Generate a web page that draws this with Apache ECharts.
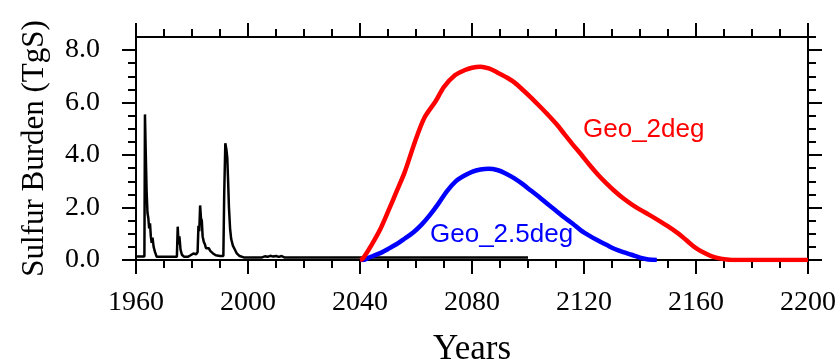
<!DOCTYPE html>
<html>
<head>
<meta charset="utf-8">
<script src="https://cdn.jsdelivr.net/npm/echarts@6/dist/echarts.min.js"></script>
<style>
  html, body { margin: 0; padding: 0; background: #fff; }
  #chart { width: 840px; height: 359px; }
</style>
</head>
<body>
<div id="chart"></div>
<script>
// historical run (black)
var histYears = [1960, 1963.0, 1963.2, 1963.5, 1963.8, 1964.1, 1964.4, 1964.7, 1965.0, 1965.3, 1965.6, 1965.9, 1966.3, 1966.8, 1967.4,
  1974.6, 1974.9, 1975.2, 1975.5, 1975.9, 1976.4, 1977.2, 1978.5, 1979.5, 1980.5, 1981.5, 1982.0,
  1982.3, 1982.6, 1982.9, 1983.2, 1983.5, 1983.8, 1984.2, 1984.6, 1985.0, 1985.5, 1986.0, 1986.5, 1987.5, 1988.5, 1990.0,
  1991.2, 1991.5, 1991.9, 1992.3, 1992.6, 1992.9, 1993.2, 1993.6, 1994.0, 1994.6, 1995.3, 1996.0, 1997.0, 1998.5,
  2005, 2006, 2007, 2008, 2009, 2010, 2011, 2012, 2013, 2100];
var histVals = [0.13, 0.13, 5.55, 4.0, 2.6, 1.8, 1.6, 1.2, 1.4, 0.9, 0.65, 0.85, 0.5, 0.3, 0.12,
  0.12, 1.27, 0.6, 0.9, 0.4, 0.2, 0.12, 0.12, 0.18, 0.25, 0.22, 0.3,
  1.3, 1.1, 2.08, 1.6, 1.5, 0.9, 0.7, 0.6, 0.45, 0.38, 0.45, 0.35, 0.25, 0.18, 0.15,
  0.15, 2.5, 4.45, 4.2, 3.9, 3.0, 2.0, 1.2, 0.8, 0.55, 0.4, 0.25, 0.15, 0.1,
  0.1, 0.14, 0.12, 0.16, 0.13, 0.15, 0.12, 0.15, 0.1, 0.1];

// Geo_2deg (red)
var geo2Years = [2040, 2041, 2044, 2047, 2050, 2053, 2056, 2059.6, 2063, 2067, 2070, 2074, 2077.5, 2080,
  2083, 2086, 2089, 2092, 2095, 2098, 2101, 2104, 2107, 2110, 2113, 2116, 2119, 2122, 2125, 2128, 2131, 2134, 2137,
  2140, 2143, 2146, 2149, 2152, 2155, 2158, 2160, 2162, 2165, 2168, 2171, 2174, 2200];
var geo2Vals = [0, 0.05, 0.55, 1.12, 1.84, 2.6, 3.36, 4.5, 5.42, 6.05, 6.6, 7.05, 7.24, 7.33,
  7.37, 7.3, 7.15, 6.98, 6.78, 6.5, 6.2, 5.88, 5.55, 5.2, 4.8, 4.4, 4.02, 3.62, 3.25, 2.92, 2.62, 2.35, 2.12,
  1.92, 1.74, 1.55, 1.35, 1.14, 0.9, 0.62, 0.45, 0.32, 0.17, 0.07, 0.02, 0, 0];

// Geo_2.5deg (blue)
var geo25Years = [2040, 2041, 2043, 2045, 2048, 2050, 2053, 2056, 2059, 2062, 2065, 2068, 2071, 2074, 2077, 2080, 2083,
  2086, 2089, 2092, 2095, 2098, 2101, 2104, 2107, 2110, 2113, 2116, 2119, 2122, 2125, 2128, 2131, 2134, 2137, 2140,
  2143, 2146];
var geo25Vals = [0, 0, 0.08, 0.17, 0.3, 0.42, 0.6, 0.82, 1.05, 1.35, 1.72, 2.15, 2.62, 2.98, 3.2, 3.36, 3.45,
  3.48, 3.43, 3.3, 3.12, 2.9, 2.65, 2.4, 2.13, 1.88, 1.62, 1.38, 1.12, 0.92, 0.74, 0.58, 0.42, 0.3, 0.2, 0.09,
  0.02, 0];

var yMajor = [0, 2, 4, 6, 8];
var yMinorLeft = [0.5, 1, 1.5, 2.5, 3, 3.5, 4.5, 5, 5.5, 6.5, 7, 7.5];
var yMinorRight = [0.5, 1, 1.5, 2.5, 3, 3.5, 4.5, 5, 5.5, 6.5, 7, 7.5, 8.5];

function pairs(xs, ys) {
  return xs.map(function(x, i) { return [x, ys[i]]; });
}

var serif = 'Liberation Serif';
var black = { color: '#000', width: 2 };

function xAx(pos, showLabel) {
  return {
    type: 'value', position: pos, min: 1960, max: 2200, interval: 40,
    name: pos === 'bottom' ? 'Years' : '',
    nameLocation: 'middle', nameGap: 72,
    nameTextStyle: { fontFamily: serif, fontSize: 35, color: '#000' },
    axisLine: { show: true, onZero: false, lineStyle: black },
    axisTick: { show: true, length: 14, lineStyle: black },
    minorTick: { show: true, splitNumber: 4, length: 8, lineStyle: black },
    axisLabel: {
      show: showLabel, margin: 29, fontFamily: serif, fontSize: 28, color: '#000',
      formatter: function(v) { return String(v); }
    },
    splitLine: { show: false }
  };
}

function yAx(pos, ticks, len, withLine, withLabel) {
  return {
    type: 'value', position: pos, min: 0, max: 8.5,
    name: withLabel ? 'Sulfur Burden (TgS)' : '',
    nameLocation: 'middle', nameGap: 86,
    nameTextStyle: { fontFamily: serif, fontSize: 31, color: '#000' },
    axisLine: { show: withLine, onZero: false, lineStyle: black },
    axisTick: { show: true, length: len, customValues: ticks, lineStyle: black },
    axisLabel: {
      show: withLabel, customValues: yMajor, margin: 36,
      fontFamily: serif, fontSize: 28, color: '#000',
      formatter: function(v) { return v.toFixed(1); }
    },
    splitLine: { show: false }
  };
}

var chart = echarts.init(document.getElementById('chart'));
chart.setOption({
  animation: false,
  backgroundColor: '#fff',
  grid: { left: 136, right: 32, top: 37, bottom: 99, containLabel: false, outerBoundsMode: 'none' },
  xAxis: [xAx('bottom', true), xAx('top', false)],
  yAxis: [
    yAx('left', yMajor, 14, true, true),
    yAx('left', yMinorLeft, 8, false, false),
    yAx('right', yMajor, 14, true, false),
    yAx('right', yMinorRight, 8, false, false)
  ],
  series: [
    {
      type: 'line', data: pairs(histYears, histVals), symbol: 'none',
      lineStyle: { color: '#000', width: 2.5 }, z: 3
    },
    {
      type: 'line', data: pairs(geo25Years, geo25Vals), symbol: 'none', smooth: 0.3,
      lineStyle: { color: '#0000ff', width: 4.5 }, z: 4
    },
    {
      type: 'line', data: pairs(geo2Years, geo2Vals), symbol: 'none', smooth: 0.3,
      lineStyle: { color: '#ff0000', width: 4.5 }, z: 5
    }
  ],
  graphic: [
    { type: 'text', x: 583, y: 130, style: { text: 'Geo_2deg', fill: '#ff0000', font: '26px "Liberation Sans"', verticalAlign: 'middle' } },
    { type: 'text', x: 430, y: 235, style: { text: 'Geo_2.5deg', fill: '#0000ff', font: '26px "Liberation Sans"', verticalAlign: 'middle' } }
  ]
});
</script>
</body>
</html>
